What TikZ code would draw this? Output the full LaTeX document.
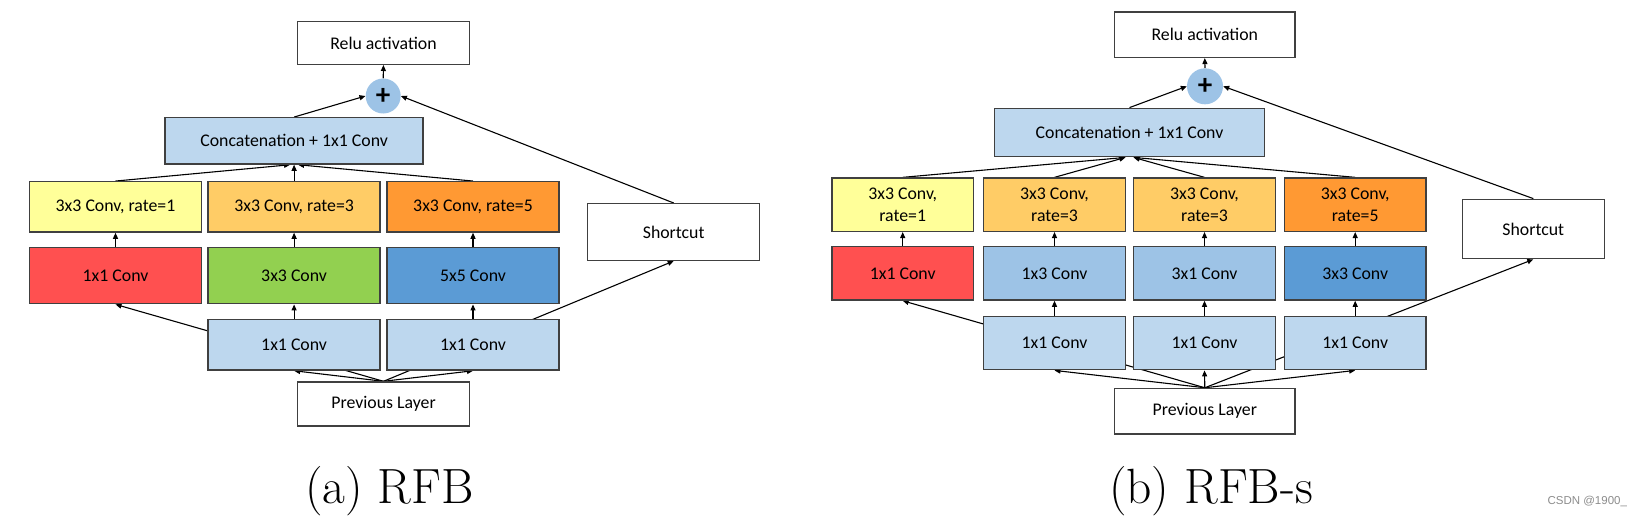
\documentclass[tikz,border=0pt]{standalone}
\usepackage{fontspec}
\newfontfamily\boxfont{Carlito}
\newfontfamily\wmfont{Liberation Sans}
\usetikzlibrary{arrows.meta,backgrounds,calc}
\definecolor{bdr}{HTML}{404040}
\definecolor{lblue}{HTML}{BDD7EE}
\definecolor{mblue}{HTML}{9DC3E6}
\definecolor{dblue}{HTML}{5B9BD5}
\definecolor{cyel}{HTML}{FFFF99}
\definecolor{lorg}{HTML}{FFCC66}
\definecolor{corg}{HTML}{FF9933}
\definecolor{cred}{HTML}{FF5050}
\definecolor{cgrn}{HTML}{92D050}
\begin{document}
\begin{tikzpicture}[x=1pt,y=-1pt,
 blk/.style={draw=bdr, line width=1.4pt, inner sep=0pt, align=center, fill=white,
   font=\boxfont\fontsize{17.8}{22.7}\selectfont},
 sz/.style 2 args={minimum width=#1pt, minimum height=#2pt},
 plusc/.style={circle, fill=mblue, minimum size=#1pt, inner sep=0pt,
   font=\boxfont\bfseries\fontsize{29}{29}\selectfont},
 arr/.style={-{Triangle[length=6pt,width=5pt]}, line width=1.1pt},
 captxt/.style={anchor=base, font=\fontsize{49.5}{59}\selectfont},
]
\useasboundingbox (0,0) rectangle (1633,515);

% ---------- (a) RFB ----------
\node[blk,sz={172}{42.6}] (Lrelu) at (383.5,43) {Relu activation};
\node[plusc=35] (Lplus) at (383.2,96) {+};
\node[blk,fill=lblue,sz={258}{46.3}] (Lcat) at (294.1,140.9) {Concatenation + 1x1 Conv};
\node[blk,fill=cyel,sz={172}{50.3}] (La1) at (115.5,206.9) {3x3 Conv, rate=1};
\node[blk,fill=lorg,sz={172}{50.3}] (La2) at (294.1,206.9) {3x3 Conv, rate=3};
\node[blk,fill=corg,sz={172}{50.3}] (La3) at (473,206.9) {3x3 Conv, rate=5};
\node[blk,fill=cred,sz={172}{56.4}] (Lb1) at (115.5,275.5) {1x1 Conv};
\node[blk,fill=cgrn,sz={172}{56.4}] (Lb2) at (294.1,275.5) {3x3 Conv};
\node[blk,fill=dblue,sz={172}{56.4}] (Lb3) at (473,275.5) {5x5 Conv};
\node[blk,fill=lblue,sz={172}{50.7}] (Lc2) at (294.1,344.7) {1x1 Conv};
\node[blk,fill=lblue,sz={172}{50.7}] (Lc3) at (473,344.7) {1x1 Conv};
\node[blk,sz={172}{44}] (Lprev) at (383.5,404) {Previous Layer};
\node[blk,sz={172}{56.6}] (Lsc) at (673.7,232) {Shortcut};

% ---------- (b) RFB-s ----------
\node[blk,sz={180.4}{45.3}] (Rrelu) at (1204.8,34.7) {Relu activation};
\node[plusc=36] (Rplus) at (1205,86.3) {+};
\node[blk,fill=lblue,sz={270.3}{48.4}] (Rcat) at (1129.5,132.5) {Concatenation + 1x1 Conv};
\node[blk,fill=cyel,sz={141.8}{53.3}] (Ra1) at (902.7,204.7) {3x3 Conv,\\rate=1};
\node[blk,fill=lorg,sz={141.8}{53.3}] (Ra2) at (1054.5,204.7) {3x3 Conv,\\rate=3};
\node[blk,fill=lorg,sz={141.8}{53.3}] (Ra3) at (1204.5,204.7) {3x3 Conv,\\rate=3};
\node[blk,fill=corg,sz={141.8}{53.3}] (Ra4) at (1355.2,204.7) {3x3 Conv,\\rate=5};
\node[blk,fill=cred,sz={141.8}{53.3}] (Rb1) at (902.7,273.4) {1x1 Conv};
\node[blk,fill=mblue,sz={141.8}{53.3}] (Rb2) at (1054.5,273.4) {1x3 Conv};
\node[blk,fill=mblue,sz={141.8}{53.3}] (Rb3) at (1204.5,273.4) {3x1 Conv};
\node[blk,fill=dblue,sz={141.8}{53.3}] (Rb4) at (1355.2,273.4) {3x3 Conv};
\node[blk,fill=lblue,sz={141.8}{53}] (Rc2) at (1054.5,343.2) {1x1 Conv};
\node[blk,fill=lblue,sz={141.8}{53}] (Rc3) at (1204.5,343.2) {1x1 Conv};
\node[blk,fill=lblue,sz={141.8}{53}] (Rc4) at (1355.2,343.2) {1x1 Conv};
\node[blk,sz={180.4}{45.5}] (Rprev) at (1204.8,411.2) {Previous Layer};
\node[blk,sz={142}{59.4}] (Rsc) at (1533.3,229) {Shortcut};

% captions
\node[captxt] (capa) at (389.5,503.3) {(a) RFB};
\node[captxt] (capb) at (1211,503) {(b) RFB-s};
\node[anchor=base west, font=\wmfont\fontsize{11.5}{13}\selectfont, text=black!45] (wm) at (1544,504) {CSDN @1900\_};

% connectors
\begin{scope}[on background layer]
\draw[arr] (Lplus.north) -- (Lrelu.south);
\draw[arr] (Lcat.north) -- (Lplus.west);
\draw[arr] (Lsc.north) -- (Lplus.east);
\draw[arr] (La1.north) -- ([xshift=-4pt]Lcat.south);
\draw[arr] (La2.north) -- (Lcat.south);
\draw[arr] (La3.north) -- ([xshift=4pt]Lcat.south);
\draw[arr] (Lb1.north) -- (La1.south);
\draw[arr] (Lb2.north) -- (La2.south);
\draw[arr] (Lb3.north) -- (La3.south);
\draw[arr] (Lc2.north) -- (Lb2.south);
\draw[arr] (Lc3.north) -- (Lb3.south);
\draw[arr] (Lprev.north) -- (Lc2.south);
\draw[arr] (Lprev.north) -- (Lc3.south);
\draw[arr] (Lprev.north) -- (Lb1.south);
\draw[arr] (Lprev.north) -- (Lsc.south);

\draw[arr] (Rplus.north) -- (Rrelu.south);
\draw[arr] (Rcat.north) -- (Rplus.west);
\draw[arr] (Rsc.north) -- (Rplus.east);
\draw[arr] (Ra1.north) -- ([xshift=-4pt]Rcat.south);
\draw[arr] (Ra2.north) -- ([xshift=-4pt]Rcat.south);
\draw[arr] (Ra3.north) -- ([xshift=4pt]Rcat.south);
\draw[arr] (Ra4.north) -- ([xshift=4pt]Rcat.south);
\draw[arr] (Rb1.north) -- (Ra1.south);
\draw[arr] (Rb2.north) -- (Ra2.south);
\draw[arr] (Rb3.north) -- (Ra3.south);
\draw[arr] (Rb4.north) -- (Ra4.south);
\draw[arr] (Rc2.north) -- (Rb2.south);
\draw[arr] (Rc3.north) -- (Rb3.south);
\draw[arr] (Rc4.north) -- (Rb4.south);
\draw[arr] (Rprev.north) -- (Rc2.south);
\draw[arr] (Rprev.north) -- (Rc3.south);
\draw[arr] (Rprev.north) -- (Rc4.south);
\draw[arr] (Rprev.north) -- (Rb1.south);
\draw[arr] (Rprev.north) -- (Rsc.south);
\end{scope}
\end{tikzpicture}
\end{document}
